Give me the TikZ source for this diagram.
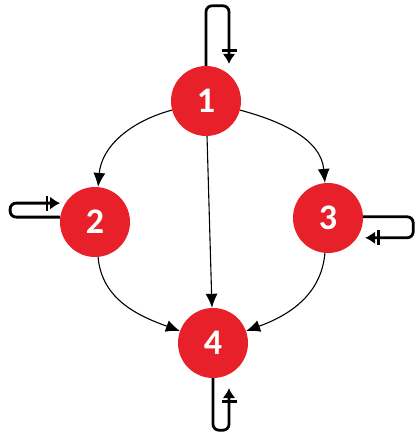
\documentclass[tikz,border=0pt]{standalone}
\usepackage{fontspec}
\setmainfont{Carlito}
\usetikzlibrary{arrows.meta}
\definecolor{nodered}{HTML}{E8202A}
\begin{document}
\begin{tikzpicture}[x=1pt,y=1pt,
 state/.style={circle,fill=nodered,minimum size=70pt,inner sep=0pt,text=white,font=\fontsize{36}{36}\selectfont\bfseries},
 edge/.style={line width=1.1pt,-{Latex[length=14pt,width=12pt]}},
 selfloop/.style={line width=2.8pt,rounded corners=6pt,-{Bar[width=15pt,line width=2.4pt,sep=2pt]Latex[length=10pt,width=13pt]}}]
\useasboundingbox (0,0) rectangle (417,437);
\node[state] (n1) at (206,336) {1};
\node[state] (n2) at (95,215) {2};
\node[state] (n3) at (328,219) {3};
\node[state] (n4) at (213,94) {4};
\draw[edge] (n1) to[out=195,in=85] (n2);
\draw[edge] (n1) to[out=-15,in=95] (n3);
\draw[edge] (n1) -- (n4);
\draw[edge] (n2) to[out=-85,in=160] (n4);
\draw[edge] (n3) to[out=-95,in=20] (n4);
\draw[selfloop] (n1.north) -- ++(0,60) -- ++(23,0) -- ++(0,-58);
\draw[selfloop] (n2.172) -- ++(-50,0) -- ++(0,14) -- ++(50,0);
\draw[selfloop] (n3.2) -- ++(50,0) -- ++(0,-21) -- ++(-48,0);
\draw[selfloop] (n4.south) -- ++(0,-52) -- ++(16,0) -- ++(0,42);
\end{tikzpicture}
\end{document}
